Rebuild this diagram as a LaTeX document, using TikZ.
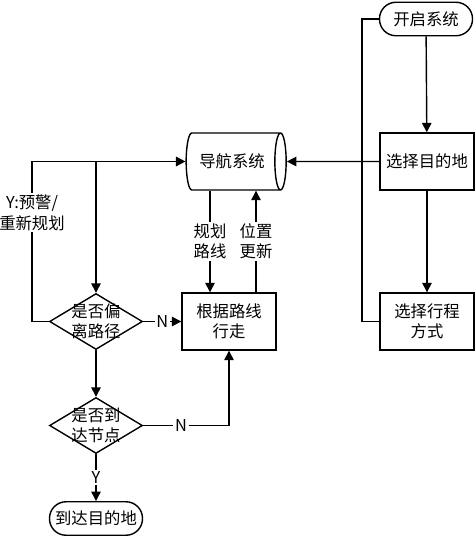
\documentclass[tikz,border=0pt]{standalone}
\usepackage{fontspec}
\setmainfont{Noto Sans CJK SC}
\usetikzlibrary{arrows.meta,shapes.geometric}

\tikzset{
  txt/.style={font=\fontsize{9.3}{11.5}\selectfont,align=center},
  box/.style={draw,txt,inner sep=1pt},
  terminal/.style={box,rounded corners=3.3mm,minimum width=1.86cm,minimum height=0.67cm},
  process/.style={box,minimum width=1.88cm,minimum height=1.14cm},
  decision/.style={draw,diamond,minimum width=1.86cm,minimum height=1.12cm,inner sep=0pt},
  store/.style={box,cylinder,shape border rotate=0,shape aspect=0.6,minimum width=1.14cm,minimum height=2.0cm},
  tag/.style={txt,fill=white,inner sep=1pt}
}

\begin{document}
\begin{tikzpicture}[line width=0.8pt,>={Triangle[length=1.9mm,width=1.9mm]}]
\useasboundingbox (0,0) rectangle (9.5,-10.8);
% ---------- right column ----------
\node[terminal] (start) at (8.52,-0.38) {开启系统};
\node[process] (dest) at (8.54,-3.23) {选择目的地};
\node[process] (mode) at (8.54,-6.43) {选择行程\\方式};
% ---------- middle ----------
\node[store] (nav) at (4.64,-3.23) {导航系统};
\node[process] (walk) at (4.58,-6.43) {根据路线\\行走};
% ---------- left column ----------
\node[decision,label={[txt]center:{是否偏\\离路径}}] (dev) at (1.92,-6.43) {};
\node[decision,label={[txt]center:{是否到\\达节点}}] (arr) at (1.92,-8.51) {};
\node[terminal] (goal) at (1.92,-10.37) {到达目的地};
\coordinate (bus) at (7.24,-0.38);
\coordinate (loop) at (0.64,-3.23);
% ---------- connectors ----------
\draw[->] (start) -- (dest);
\draw[->] (dest) -- (mode);
\draw (start.west) -- (bus) |- (mode.west);
\draw[->] (dest.west) -- (nav.east);
\draw[->] (dev.west) -| (loop) node[tag,pos=0.84] {Y:预警/\\重新规划} -- (nav.west);
\draw[->] (dev.north |- loop) -- (dev.north);
\draw[->] ([xshift=-4.4mm]nav.south) -- ([xshift=-4.4mm]nav.south |- walk.north)
  node[tag,midway] {规划\\路线};
\draw[->] ([xshift=5.4mm]walk.north) -- ([xshift=5.4mm]walk.north |- nav.south)
  node[tag,midway] {位置\\更新};
\draw[->] (dev.east) -- node[tag] {N} (walk.west);
\draw[->] (dev) -- (arr);
\draw[->] (arr.east) -| node[tag,pos=0.22] {N} (walk.south);
\draw[->] (arr) -- node[tag] {Y} (goal);
\end{tikzpicture}
\end{document}
